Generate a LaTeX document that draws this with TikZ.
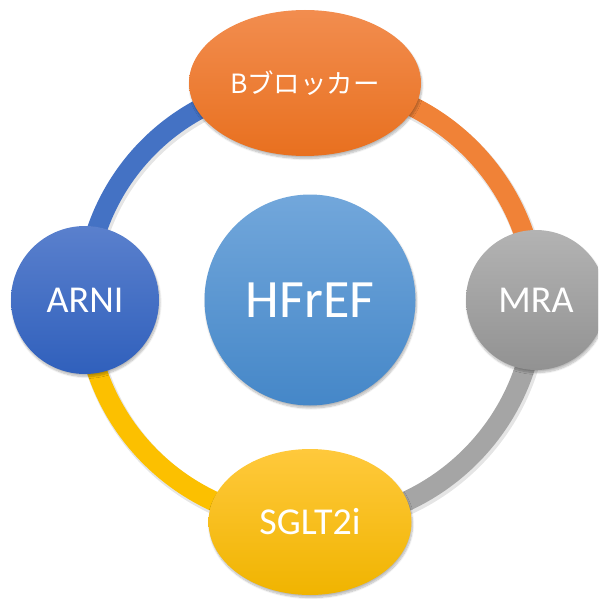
\documentclass[tikz,border=0pt]{standalone}
\usepackage{fontspec}
\setmainfont{Carlito}
\newfontfamily\cjk{Noto Sans CJK JP}
\usetikzlibrary{shapes.geometric,shadows.blur}

\definecolor{ringblue}{HTML}{4472C4}
\definecolor{ringorange}{HTML}{F08237}
\definecolor{ringgray}{HTML}{A5A5A5}
\definecolor{ringyellow}{HTML}{FCC000}
\definecolor{orangetop}{HTML}{F28D4F}
\definecolor{orangebot}{HTML}{E8701F}
\definecolor{bluetop}{HTML}{5A80CD}
\definecolor{bluebot}{HTML}{3060BC}
\definecolor{graytop}{HTML}{B3B3B3}
\definecolor{graybot}{HTML}{929292}
\definecolor{yellowtop}{HTML}{FFC93C}
\definecolor{yellowbot}{HTML}{F0B400}
\definecolor{skytop}{HTML}{72A7DB}
\definecolor{skybot}{HTML}{4587C8}

\tikzset{
  soft/.style={blur shadow={shadow xshift=1pt,shadow yshift=-2.5pt,
      shadow blur steps=8,shadow opacity=28}},
  drug/.style={soft,draw=none,text=white,inner sep=0pt,font=\fontsize{38}{40}\selectfont},
  ringseg/.style={line width=20pt,line cap=butt},
  ringshadow/.style={line width=22pt,black,opacity=0.10},
}

\begin{document}
\begin{tikzpicture}[x=1pt,y=-1pt]
  \useasboundingbox (0,0) rectangle (598,599);
  \clip (0,0) rectangle (598,599);

  % therapy nodes placed round the ring
  \path (305,83) coordinate (pb);
  \path (85,300) coordinate (pa);
  \path (536,300) coordinate (pm);
  \path (310,522) coordinate (ps);

  % ring segment shadows
  \draw[ringshadow] ([shift={(1.5,2.5)}]pa) to[bend left=45] ([shift={(1.5,2.5)}]pb);
  \draw[ringshadow] ([shift={(1.5,2.5)}]pb) to[bend left=45] ([shift={(1.5,2.5)}]pm);
  \draw[ringshadow] ([shift={(1.5,2.5)}]pm) to[bend left=45] ([shift={(1.5,2.5)}]ps);
  \draw[ringshadow] ([shift={(1.5,2.5)}]ps) to[bend left=45] ([shift={(1.5,2.5)}]pa);

  % ring segments
  \draw[ringseg,ringblue]   (pa) to[bend left=45] (pb);
  \draw[ringseg,ringorange] (pb) to[bend left=45] (pm);
  \draw[ringseg,ringgray]   (pm) to[bend left=45] (ps);
  \draw[ringseg,ringyellow] (ps) to[bend left=45] (pa);

  % nodes
  \node[drug,ellipse,minimum width=232pt,minimum height=146pt,
        top color=orangetop,bottom color=orangebot,
        font=\cjk\fontsize{26.5}{28}\selectfont] (bb) at (pb) {Bブロッカー};
  \node[drug,circle,minimum size=148pt,
        top color=bluetop,bottom color=bluebot] (arni) at (pa) {ARNI};
  \node[drug,circle,minimum size=140pt,
        top color=graytop,bottom color=graybot] (mra) at (pm) {MRA};
  \node[drug,ellipse,minimum width=203pt,minimum height=146pt,
        top color=yellowtop,bottom color=yellowbot] (sglt) at (ps) {SGLT2i};
  \node[drug,circle,minimum size=211pt,font=\fontsize{54}{56}\selectfont,
        top color=skytop,bottom color=skybot] (hf) at (310,300) {HFrEF};
\end{tikzpicture}
\end{document}
